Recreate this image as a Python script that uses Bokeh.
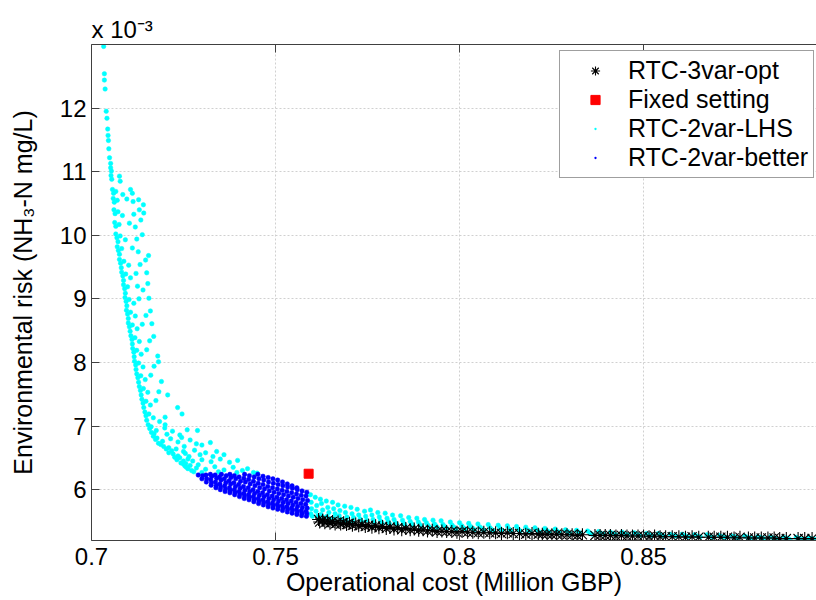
import numpy as np
from bokeh.plotting import figure
from bokeh.models import LinearAxis, FixedTicker, Legend, LegendItem, Range1d
from bokeh.embed import file_html
from bokeh.resources import INLINE

# Risk values are given in units of 1e-3 NH3-N mg/L (axis multiplier "x 10^-3")
X_TICKS = [0.7, 0.75, 0.8, 0.85]
X_TICK_LABELS = ["0.7", "0.75", "0.8", "0.85"]
Y_TICKS = [6, 7, 8, 9, 10, 11, 12]
Y_TICK_LABELS = ["6", "7", "8", "9", "10", "11", "12"]

SERIES_NAMES = ["RTC-3var-opt", "Fixed setting", "RTC-2var-LHS", "RTC-2var-better"]

fixed_cost = [0.759]
fixed_risk = [6.25]

# RTC-2var-LHS (cyan), (cost, risk)
lhs_tail = [
    (0.7033, 12.97), (0.7035, 12.54), (0.7035, 12.44), (0.7037, 12.30), (0.7040, 11.95),
    (0.7042, 11.84), (0.7044, 11.67), (0.7045, 11.57), (0.7046, 11.49), (0.7047, 11.36),
    (0.7049, 11.22), (0.7052, 11.13), (0.7052, 11.06), (0.7054, 11.01), (0.7053, 10.94),
    (0.7055, 10.88), (0.7076, 10.93), (0.7078, 10.85),
]
lhs_upper = [
    (0.7057, 10.72), (0.7060, 10.66), (0.7066, 10.69), (0.7106, 10.72), (0.7111, 10.66), (0.7085, 10.64),
    (0.7059, 10.58), (0.7062, 10.52), (0.7070, 10.55), (0.7096, 10.57), (0.7113, 10.53), (0.7128, 10.56), (0.7141, 10.48),
    (0.7061, 10.40), (0.7064, 10.34), (0.7072, 10.37), (0.7084, 10.31), (0.7115, 10.33), (0.7130, 10.40), (0.7142, 10.35),
    (0.7063, 10.20), (0.7066, 10.14), (0.7075, 10.17), (0.7103, 10.19), (0.7119, 10.13), (0.7134, 10.24),
    (0.7066, 10.02), (0.7069, 9.96), (0.7078, 9.99), (0.7092, 9.93), (0.7123, 9.94), (0.7138, 10.01), (0.7072, 9.90),
    (0.7070, 9.82), (0.7073, 9.76), (0.7082, 9.79), (0.7111, 9.80), (0.7127, 9.74), (0.7155, 9.68), (0.7076, 9.70),
    (0.7076, 9.62), (0.7079, 9.56), (0.7088, 9.59), (0.7101, 9.53), (0.7132, 9.54), (0.7147, 9.61), (0.7081, 9.49),
    (0.7082, 9.42), (0.7085, 9.36), (0.7093, 9.39), (0.7106, 9.33), (0.7121, 9.40), (0.7150, 9.41), (0.7087, 9.29),
    (0.7087, 9.22), (0.7090, 9.16), (0.7098, 9.19), (0.7125, 9.20), (0.7140, 9.14), (0.7153, 9.24), (0.7092, 9.09),
    (0.7091, 9.02), (0.7094, 8.96), (0.7102, 8.99), (0.7115, 8.93), (0.7129, 9.00), (0.7156, 9.01), (0.7096, 8.89),
    (0.7095, 8.82), (0.7098, 8.76), (0.7106, 8.79), (0.7119, 8.73), (0.7148, 8.74), (0.7160, 8.81), (0.7100, 8.69),
    (0.7100, 8.62), (0.7103, 8.56), (0.7111, 8.59), (0.7124, 8.53), (0.7138, 8.60), (0.7164, 8.61), (0.7105, 8.49),
    (0.7107, 8.42), (0.7110, 8.36), (0.7118, 8.39), (0.7130, 8.33), (0.7158, 8.34), (0.7169, 8.41), (0.7111, 8.29),
    (0.7112, 8.22), (0.7115, 8.16), (0.7123, 8.19), (0.7135, 8.13), (0.7150, 8.20), (0.7180, 8.10), (0.7116, 8.09),
    (0.7117, 8.02), (0.7120, 7.96), (0.7128, 7.99), (0.7140, 7.93), (0.7170, 7.94), (0.7182, 8.01), (0.7121, 7.89),
    (0.7123, 7.82), (0.7126, 7.76), (0.7134, 7.79), (0.7146, 7.73), (0.7161, 7.80), (0.7190, 7.70), (0.7128, 7.69),
    (0.7130, 7.62), (0.7133, 7.56), (0.7141, 7.59), (0.7153, 7.53), (0.7183, 7.54), (0.7207, 7.49), (0.7135, 7.49),
    (0.7137, 7.42), (0.7140, 7.36), (0.7148, 7.39), (0.7160, 7.33), (0.7175, 7.40), (0.7234, 7.29), (0.7142, 7.29),
    (0.7145, 7.22), (0.7148, 7.16), (0.7156, 7.19), (0.7168, 7.13), (0.7200, 7.14), (0.7246, 7.19), (0.7150, 7.09),
]
lhs_knee = [
    (0.7154, 7.02), (0.7158, 6.96), (0.7162, 6.99), (0.7176, 6.93), (0.7199, 6.97), (0.7163, 6.90), (0.7170, 6.88),
    (0.7220, 6.92), (0.7260, 6.94), (0.7288, 6.93), (0.7240, 6.86), (0.7200, 7.02), (0.7185, 7.07), (0.7205, 6.87),
    (0.7168, 6.84), (0.7174, 6.79), (0.7178, 6.81), (0.7193, 6.76), (0.7215, 6.80), (0.7182, 6.73), (0.7188, 6.71),
    (0.7235, 6.75), (0.7268, 6.78), (0.7300, 6.70), (0.7323, 6.74), (0.7252, 6.68), (0.7245, 6.82), (0.7285, 6.72),
    (0.7196, 6.68), (0.7203, 6.64), (0.7210, 6.66), (0.7218, 6.61), (0.7230, 6.64), (0.7210, 6.58), (0.7222, 6.56),
    (0.7250, 6.60), (0.7280, 6.62), (0.7310, 6.58), (0.7340, 6.60), (0.7360, 6.55), (0.7235, 6.53), (0.7265, 6.52),
    (0.7255, 6.57), (0.7295, 6.55), (0.7330, 6.52),
    (0.7226, 6.51), (0.7232, 6.47), (0.7240, 6.50), (0.7250, 6.45), (0.7262, 6.48), (0.7243, 6.42), (0.7256, 6.41),
    (0.7275, 6.45), (0.7300, 6.47), (0.7325, 6.44), (0.7350, 6.48), (0.7375, 6.43), (0.7397, 6.46), (0.7268, 6.38), (0.7290, 6.39),
    (0.7254, 6.37), (0.7262, 6.33), (0.7258, 6.35), (0.7272, 6.30), (0.7285, 6.34), (0.7310, 6.32), (0.7335, 6.36),
    (0.7360, 6.31), (0.7385, 6.35), (0.7410, 6.30), (0.7424, 6.33), (0.7278, 6.28), (0.7300, 6.27), (0.7345, 6.28),
    (0.7395, 6.27), (0.7440, 6.27), (0.7450, 6.26), (0.7250, 6.40),
]
lhs_right = [
    (0.7595, 5.92), (0.7597, 5.80), (0.7598, 5.70), (0.7596, 5.62), (0.7600, 5.58),
    (0.7608, 5.88), (0.7612, 5.75), (0.7610, 5.66), (0.7615, 5.59),
    (0.7622, 5.85), (0.7625, 5.78), (0.7628, 5.68), (0.7624, 5.61), (0.7630, 5.56),
    (0.7638, 5.82), (0.7642, 5.72), (0.7645, 5.64), (0.7640, 5.58), (0.7648, 5.54),
    (0.7655, 5.80), (0.7658, 5.70), (0.7662, 5.62), (0.7660, 5.55),
    (0.7670, 5.76), (0.7675, 5.67), (0.7673, 5.59), (0.7678, 5.53),
    (0.7688, 5.74), (0.7690, 5.64), (0.7694, 5.57), (0.7692, 5.51),
    (0.7705, 5.72), (0.7708, 5.62), (0.7712, 5.56), (0.7710, 5.50),
    (0.7722, 5.69), (0.7726, 5.60), (0.7730, 5.54), (0.7735, 5.49),
    (0.7742, 5.66), (0.7745, 5.58), (0.7748, 5.52),
    (0.7758, 5.68), (0.7762, 5.60), (0.7765, 5.53), (0.7768, 5.48),
    (0.7778, 5.64), (0.7782, 5.57), (0.7785, 5.51), (0.7790, 5.47),
    (0.7798, 5.63), (0.7803, 5.55), (0.7806, 5.50), (0.7810, 5.46),
    (0.7818, 5.60), (0.7822, 5.53), (0.7826, 5.48), (0.7830, 5.45),
    (0.7840, 5.59), (0.7845, 5.52), (0.7848, 5.47), (0.7852, 5.44),
    (0.7862, 5.56), (0.7866, 5.50), (0.7870, 5.46), (0.7874, 5.43),
    (0.7884, 5.55), (0.7888, 5.49), (0.7892, 5.45), (0.7896, 5.42),
    (0.7905, 5.53), (0.7910, 5.48), (0.7914, 5.44), (0.7918, 5.41),
    (0.7928, 5.52), (0.7932, 5.46), (0.7936, 5.43), (0.7940, 5.40),
    (0.7950, 5.51), (0.7955, 5.45), (0.7960, 5.42), (0.7965, 5.39),
    (0.7975, 5.49), (0.7980, 5.44), (0.7985, 5.41), (0.7990, 5.38),
    (0.8000, 5.48), (0.8006, 5.43), (0.8010, 5.40), (0.8015, 5.38),
    (0.8025, 5.47), (0.8030, 5.42), (0.8036, 5.39), (0.8040, 5.37),
    (0.8050, 5.46), (0.8056, 5.41), (0.8062, 5.38), (0.8066, 5.36),
    (0.8078, 5.45), (0.8083, 5.40), (0.8088, 5.37), (0.8092, 5.35),
    (0.8105, 5.44), (0.8110, 5.39), (0.8115, 5.36),
    (0.8130, 5.43), (0.8135, 5.38), (0.8140, 5.35),
    (0.8155, 5.42), (0.8160, 5.37), (0.8165, 5.35),
    (0.8180, 5.41), (0.8186, 5.36), (0.8192, 5.34),
    (0.8205, 5.40), (0.8212, 5.36), (0.8218, 5.33),
    (0.8232, 5.39), (0.8238, 5.35), (0.8244, 5.33),
    (0.8260, 5.38), (0.8266, 5.34), (0.8272, 5.32),
    (0.8288, 5.37), (0.8294, 5.34), (0.8300, 5.31),
    (0.8318, 5.36), (0.8324, 5.33), (0.8330, 5.31),
    (0.8348, 5.35), (0.8354, 5.32), (0.8360, 5.30),
    (0.8378, 5.34), (0.8385, 5.31), (0.8392, 5.30),
    (0.8410, 5.33), (0.8418, 5.31), (0.8425, 5.29),
    (0.8442, 5.33), (0.8450, 5.30), (0.8458, 5.29),
    (0.8475, 5.32), (0.8482, 5.30), (0.8490, 5.28),
    (0.8508, 5.31), (0.8515, 5.29), (0.8522, 5.28),
    (0.8540, 5.31), (0.8548, 5.29), (0.8555, 5.27),
    (0.8572, 5.30), (0.8580, 5.28), (0.8588, 5.27),
    (0.8605, 5.30), (0.8612, 5.28), (0.8620, 5.26),
    (0.8638, 5.29), (0.8646, 5.27), (0.8654, 5.26),
    (0.8672, 5.29), (0.8680, 5.27), (0.8688, 5.25),
    (0.8706, 5.28), (0.8714, 5.26), (0.8722, 5.25),
    (0.8740, 5.27), (0.8748, 5.26), (0.8756, 5.24),
    (0.8775, 5.27), (0.8783, 5.25), (0.8791, 5.24),
    (0.8810, 5.26), (0.8818, 5.25), (0.8826, 5.23),
    (0.8845, 5.26), (0.8853, 5.24), (0.8861, 5.23),
    (0.8880, 5.25), (0.8888, 5.24), (0.8896, 5.22),
    (0.8915, 5.25), (0.8923, 5.23), (0.8931, 5.22),
    (0.8948, 5.24), (0.8956, 5.23), (0.8964, 5.22),
]

# RTC-2var-better (blue): LHS points dominating the fixed setting
better_points = [
    (0.7290, 6.23), (0.7300, 6.17), (0.7302, 6.22),
    (0.7312, 6.12), (0.7313, 6.17), (0.7311, 6.23),
    (0.7325, 6.07), (0.7326, 6.11), (0.7324, 6.16), (0.7327, 6.21), (0.7323, 6.24),
    (0.7338, 6.03), (0.7339, 6.07), (0.7337, 6.12), (0.7340, 6.18), (0.7336, 6.23),
    (0.7350, 6.00), (0.7351, 6.04), (0.7349, 6.09), (0.7352, 6.15), (0.7348, 6.20), (0.7353, 6.24),
    (0.7363, 5.97), (0.7364, 6.01), (0.7362, 6.06), (0.7365, 6.11), (0.7361, 6.17), (0.7366, 6.22),
    (0.7376, 5.95), (0.7377, 5.99), (0.7375, 6.03), (0.7378, 6.09), (0.7374, 6.14), (0.7379, 6.19), (0.7376, 6.24),
    (0.7389, 5.92), (0.7390, 5.96), (0.7388, 6.00), (0.7391, 6.05), (0.7387, 6.11), (0.7392, 6.17), (0.7388, 6.22),
    (0.7402, 5.89), (0.7403, 5.93), (0.7401, 5.97), (0.7404, 6.02), (0.7400, 6.08), (0.7405, 6.13), (0.7401, 6.20),
    (0.7415, 5.86), (0.7416, 5.90), (0.7414, 5.94), (0.7417, 5.99), (0.7413, 6.05), (0.7418, 6.12), (0.7414, 6.18), (0.7416, 6.24),
    (0.7428, 5.84), (0.7429, 5.88), (0.7427, 5.92), (0.7430, 5.97), (0.7426, 6.03), (0.7431, 6.09), (0.7427, 6.16), (0.7429, 6.22),
    (0.7441, 5.81), (0.7442, 5.85), (0.7440, 5.89), (0.7443, 5.94), (0.7439, 6.00), (0.7444, 6.06), (0.7440, 6.13), (0.7442, 6.20),
    (0.7454, 5.78), (0.7455, 5.82), (0.7453, 5.86), (0.7456, 5.91), (0.7452, 5.97), (0.7457, 6.03), (0.7453, 6.10), (0.7455, 6.17), (0.7452, 6.24),
    (0.7467, 5.76), (0.7468, 5.80), (0.7466, 5.84), (0.7469, 5.89), (0.7465, 5.95), (0.7470, 6.01), (0.7466, 6.08), (0.7468, 6.15), (0.7466, 6.21),
    (0.7480, 5.73), (0.7481, 5.77), (0.7479, 5.81), (0.7482, 5.86), (0.7478, 5.92), (0.7483, 5.98), (0.7479, 6.05), (0.7481, 6.12), (0.7480, 6.19),
    (0.7493, 5.71), (0.7494, 5.75), (0.7492, 5.79), (0.7495, 5.84), (0.7491, 5.90), (0.7496, 5.96), (0.7492, 6.03), (0.7494, 6.10), (0.7493, 6.17),
    (0.7506, 5.69), (0.7507, 5.73), (0.7505, 5.77), (0.7508, 5.82), (0.7504, 5.88), (0.7509, 5.94), (0.7505, 6.01), (0.7507, 6.08), (0.7506, 6.15),
    (0.7519, 5.67), (0.7520, 5.71), (0.7518, 5.75), (0.7521, 5.80), (0.7517, 5.86), (0.7522, 5.92), (0.7518, 5.99), (0.7520, 6.06), (0.7519, 6.12),
    (0.7532, 5.65), (0.7533, 5.69), (0.7531, 5.73), (0.7534, 5.78), (0.7530, 5.84), (0.7535, 5.90), (0.7531, 5.97), (0.7533, 6.04), (0.7532, 6.09),
    (0.7545, 5.63), (0.7546, 5.67), (0.7544, 5.71), (0.7547, 5.76), (0.7543, 5.82), (0.7548, 5.88), (0.7544, 5.95), (0.7546, 6.02), (0.7545, 6.06),
    (0.7558, 5.61), (0.7559, 5.65), (0.7557, 5.69), (0.7560, 5.74), (0.7556, 5.80), (0.7561, 5.86), (0.7557, 5.93), (0.7559, 6.00), (0.7558, 6.03),
    (0.7571, 5.59), (0.7572, 5.63), (0.7570, 5.67), (0.7573, 5.72), (0.7569, 5.78), (0.7574, 5.84), (0.7570, 5.91), (0.7572, 5.98),
    (0.7584, 5.58), (0.7585, 5.62), (0.7583, 5.66), (0.7586, 5.71), (0.7582, 5.77), (0.7587, 5.83), (0.7583, 5.90), (0.7585, 5.96),
]

# RTC-3var-opt (black asterisks)
opt_points = [
    (0.7617, 5.53), (0.7620, 5.49), (0.7628, 5.52), (0.7634, 5.48), (0.7641, 5.51), (0.7648, 5.47),
    (0.7655, 5.50), (0.7662, 5.46), (0.7670, 5.49), (0.7677, 5.46), (0.7685, 5.48), (0.7693, 5.45),
    (0.7701, 5.47), (0.7709, 5.44), (0.7718, 5.46), (0.7726, 5.43), (0.7735, 5.45), (0.7744, 5.42),
    (0.7753, 5.44), (0.7762, 5.41), (0.7772, 5.43), (0.7781, 5.40), (0.7791, 5.42), (0.7801, 5.39),
    (0.7811, 5.41), (0.7822, 5.38), (0.7832, 5.40), (0.7843, 5.37), (0.7854, 5.39), (0.7866, 5.37),
    (0.7877, 5.38), (0.7889, 5.36), (0.7901, 5.37), (0.7913, 5.35), (0.7926, 5.36), (0.7939, 5.34),
    (0.7952, 5.35), (0.7965, 5.34), (0.7979, 5.34), (0.7993, 5.33), (0.8007, 5.34), (0.8022, 5.33),
    (0.8036, 5.33), (0.8051, 5.32), (0.8066, 5.33), (0.8082, 5.32), (0.8098, 5.32), (0.8114, 5.31),
    (0.8130, 5.32), (0.8146, 5.31), (0.8163, 5.31), (0.8180, 5.30), (0.8197, 5.31), (0.8214, 5.30),
    (0.8225, 5.30), (0.8238, 5.30), (0.8251, 5.29), (0.8264, 5.30), (0.8278, 5.29), (0.8292, 5.29),
    (0.8306, 5.29), (0.8320, 5.28), (0.8334, 5.29),
    (0.8368, 5.28), (0.8382, 5.28), (0.8396, 5.28), (0.8410, 5.28), (0.8425, 5.27), (0.8440, 5.28),
    (0.8455, 5.27), (0.8470, 5.27), (0.8485, 5.27), (0.8500, 5.27), (0.8515, 5.26), (0.8530, 5.27),
    (0.8545, 5.26), (0.8560, 5.26), (0.8578, 5.26), (0.8596, 5.26), (0.8614, 5.25), (0.8632, 5.26),
    (0.8650, 5.25),
    (0.8676, 5.25), (0.8692, 5.25), (0.8710, 5.25), (0.8728, 5.25), (0.8746, 5.24), (0.8762, 5.25),
    (0.8785, 5.24), (0.8802, 5.24), (0.8820, 5.24), (0.8838, 5.24), (0.8855, 5.24), (0.8870, 5.23),
    (0.8888, 5.23),
    (0.8920, 5.23), (0.8938, 5.23), (0.8958, 5.23),
]

FONT = "Liberation Sans"
AXIS_COLOR = "#404040"

lhs = lhs_tail + lhs_upper + lhs_knee + lhs_right
lhs_cost = [c for c, r in lhs]
lhs_risk = [r for c, r in lhs]
better_cost = [c for c, r in better_points]
better_risk = [r for c, r in better_points]
opt_cost = [c for c, r in opt_points]
opt_risk = [r for c, r in opt_points]

p = figure(width=816, height=600, output_backend="svg", toolbar_location=None,
           x_range=Range1d(0.7, 0.8970), y_range=Range1d(5.2, 13.0),
           min_border_left=91, min_border_right=0, min_border_top=44, min_border_bottom=60,
           title="x 10\u207b\u00b3")
p.outline_line_color = None
p.background_fill_color = "white"
p.border_fill_color = "white"
p.title.align = "left"
p.title.offset = 0
p.title.standoff = 4
p.title.text_font = FONT
p.title.text_font_size = "24px"
p.title.text_font_style = "normal"
p.title.text_color = "black"

r_lhs = p.scatter(lhs_cost, lhs_risk, marker="circle", size=4.5, fill_color="cyan",
                  line_color="cyan", line_width=0.5)
r_better = p.scatter(better_cost, better_risk, marker="circle", size=4.5, fill_color="blue",
                     line_color="blue", line_width=0.5)
r_opt = p.scatter(opt_cost, opt_risk, marker="asterisk", size=13, line_color="black", line_width=1.1)
r_fixed = p.scatter(fixed_cost, fixed_risk, marker="square", size=9, fill_color="red", line_color="red")
# hidden copies drawn as small dots, used only for the legend keys
key_lhs = p.scatter(lhs_cost, lhs_risk, marker="dot", size=9, line_color="cyan", fill_color="cyan",
                    line_width=4, visible=False)
key_better = p.scatter(better_cost, better_risk, marker="dot", size=9, line_color="blue", fill_color="blue",
                       line_width=4, visible=False)

for ax, ticks, labels in ((p.xaxis[0], X_TICKS, X_TICK_LABELS), (p.yaxis[0], Y_TICKS, Y_TICK_LABELS)):
    ax.ticker = FixedTicker(ticks=ticks)
    ax.major_label_overrides = {t: l for t, l in zip(ticks, labels)}
    ax.major_tick_in = 8
    ax.major_tick_out = 0
    ax.minor_tick_line_color = None
    ax.axis_line_color = AXIS_COLOR
    ax.major_tick_line_color = AXIS_COLOR
    ax.major_label_text_font = FONT
    ax.major_label_text_font_size = "24px"
    ax.major_label_text_color = "black"
    ax.axis_label_text_font = FONT
    ax.axis_label_text_font_size = "25px"
    ax.axis_label_text_font_style = "normal"
    ax.axis_label_text_color = "black"
p.xaxis[0].axis_label = "Operational cost (Million GBP)"
p.xaxis[0].major_label_standoff = 7
p.xaxis[0].axis_label_standoff = 0
p.yaxis[0].axis_label = "Environmental risk (NH\u2083-N mg/L)"
p.yaxis[0].major_label_standoff = 5
p.yaxis[0].axis_label_standoff = 20

top_axis = LinearAxis(ticker=FixedTicker(ticks=X_TICKS), major_label_text_font_size="1px",
                      major_label_text_color=None, major_tick_in=8, major_tick_out=0,
                      minor_tick_line_color=None, axis_line_color=AXIS_COLOR,
                      major_tick_line_color=AXIS_COLOR, major_label_standoff=0)
p.add_layout(top_axis, "above")

p.xgrid.ticker = FixedTicker(ticks=X_TICKS)
p.ygrid.ticker = FixedTicker(ticks=Y_TICKS)
for g in (p.xgrid[0], p.ygrid[0]):
    g.grid_line_color = "#d0d0d0"
    g.grid_line_dash = "2 2"
    g.grid_line_width = 1

legend = Legend(items=[
    LegendItem(label=SERIES_NAMES[0], renderers=[r_opt]),
    LegendItem(label=SERIES_NAMES[1], renderers=[r_fixed]),
    LegendItem(label=SERIES_NAMES[2], renderers=[key_lhs]),
    LegendItem(label=SERIES_NAMES[3], renderers=[key_better]),
], location=(468, 362))
legend.label_text_font = FONT
legend.label_text_font_size = "25px"
legend.label_text_line_height = 1.0
legend.label_text_color = "black"
legend.glyph_width = 60
legend.glyph_height = 23
legend.label_height = 29
legend.label_standoff = 3
legend.spacing = 0
legend.padding = 5
legend.margin = 0
legend.inactive_fill_alpha = 0
legend.border_line_color = AXIS_COLOR
legend.border_line_width = 1
legend.background_fill_color = "white"
legend.background_fill_alpha = 1
p.add_layout(legend)

open("out.html", "w").write(file_html(p, INLINE))
